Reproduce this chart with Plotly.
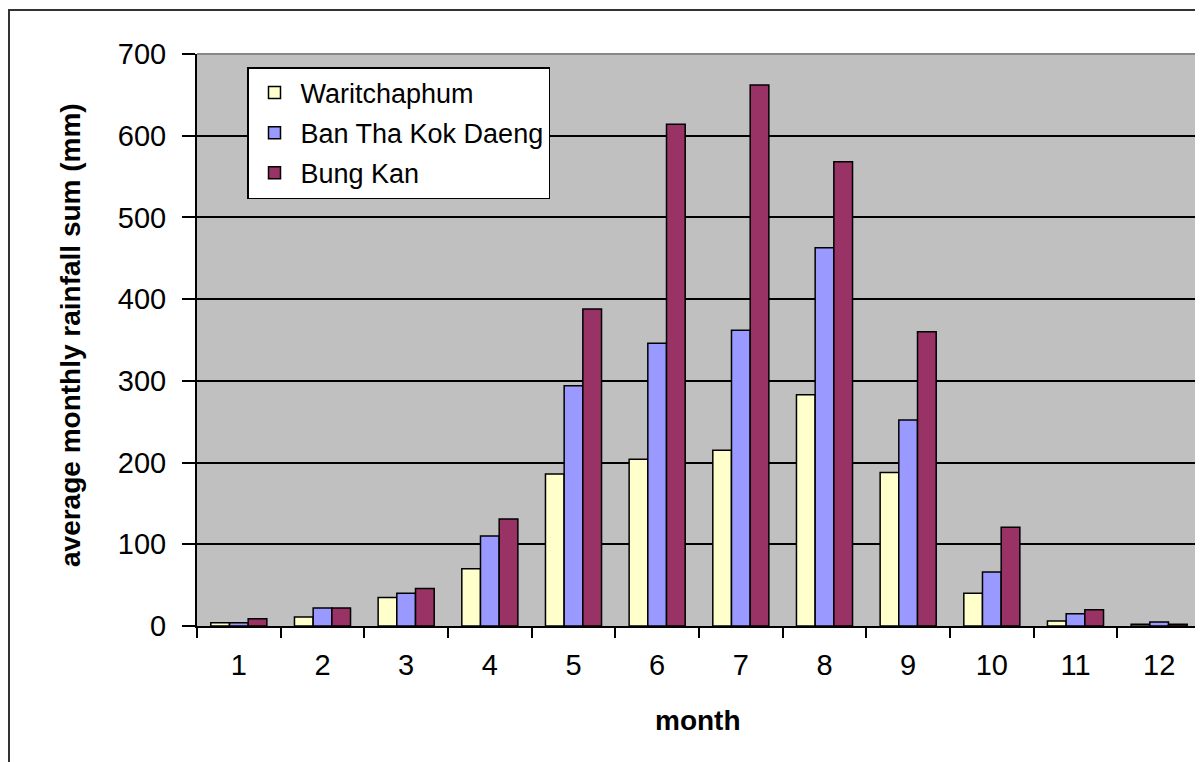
import plotly.graph_objects as go

months = ["1", "2", "3", "4", "5", "6", "7", "8", "9", "10", "11", "12"]
waritchaphum = [4, 11, 35, 70, 186, 204, 215, 283, 188, 40, 6, 2]
ban_tha_kok_daeng = [4, 22, 40, 110, 294, 346, 362, 463, 252, 66, 15, 5]
bung_kan = [9, 22, 46, 131, 388, 614, 662, 568, 360, 121, 20, 2]

series = [
    ("Waritchaphum", waritchaphum, "#FFFFCC"),
    ("Ban Tha Kok Daeng", ban_tha_kok_daeng, "#9999FF"),
    ("Bung Kan", bung_kan, "#993366"),
]

FONT = "Arial, Liberation Sans, sans-serif"

fig = go.Figure()
for i, (name, vals, col) in enumerate(series):
    fig.add_trace(go.Bar(
        x=months, y=vals, name=name, legendgroup=f"g{i}",
        marker=dict(color=col, line=dict(color="#000000", width=1.5)),
    ))

# page has an 8px body margin; screen coords = figure coords + 8
OFF = 8
W, H = 1203, 762
# target plot area on screen: x 197..1201, y 54..626
L = 197 - OFF
T = 54 - OFF
R = W - (1201 - OFF)
B = H - (626 - OFF)
pw, ph = W - L - R, H - T - B

def px2x(sx):
    return (sx - OFF - L) / pw

def py2y(sy):
    return (H - B - (sy - OFF)) / ph

fig.update_layout(
    width=W, height=H,
    margin=dict(l=L, r=R, t=T, b=B, pad=0),
    paper_bgcolor="white",
    plot_bgcolor="#C0C0C0",
    barmode="group", bargap=0.33, bargroupgap=0,
    font=dict(family=FONT, color="#000000"),
    showlegend=True,
    legend=dict(
        x=px2x(247), y=py2y(67), xanchor="left", yanchor="top",
        bgcolor="white", bordercolor="#000000", borderwidth=1.5,
        font=dict(size=27, family=FONT, color="#000000"),
        tracegroupgap=2, traceorder="grouped",
        itemwidth=42,
    ),
    xaxis=dict(
        type="category", showgrid=False,
        ticks="outside", tickson="boundaries", ticklen=10, tickwidth=1.5, tickcolor="#000000",
        showline=True, linecolor="#000000", linewidth=2,
        tickfont=dict(size=29, family=FONT, color="#000000"),
        ticklabelstandoff=12,
        automargin=False,
    ),
    yaxis=dict(
        range=[0, 700], dtick=100, tick0=0,
        showgrid=True, gridcolor="#000000", gridwidth=1.8,
        ticks="outside", ticklen=13, tickwidth=1.5, tickcolor="#000000",
        showline=True, linecolor="#000000", linewidth=2,
        tickfont=dict(size=29, family=FONT, color="#000000"),
        ticklabelstandoff=10,
        zeroline=False,
        automargin=False,
    ),
    shapes=[
        dict(type="line", xref="paper", yref="paper", x0=0, x1=1, y0=1, y1=1,
             line=dict(color="#888888", width=2), layer="above"),
        dict(type="line", xref="paper", yref="paper", x0=1, x1=1, y0=0, y1=1,
             line=dict(color="#888888", width=2), layer="above"),
        dict(type="rect", xref="paper", yref="paper",
             x0=px2x(9), x1=px2x(1230), y0=py2y(10), y1=py2y(800),
             line=dict(color="#333333", width=2), layer="above"),
    ],
    annotations=[
        dict(text="<b>average monthly rainfall sum (mm)</b>", textangle=-90,
             xref="paper", yref="paper", x=px2x(70), y=py2y(335),
             xanchor="center", yanchor="middle", showarrow=False,
             font=dict(size=28, family=FONT, color="#000000")),
        dict(text="<b>month</b>", xref="paper", yref="paper",
             x=px2x(698), y=py2y(720), xanchor="center", yanchor="middle",
             showarrow=False, font=dict(size=28, family=FONT, color="#000000")),
    ],
)

fig.write_html("out.html")
